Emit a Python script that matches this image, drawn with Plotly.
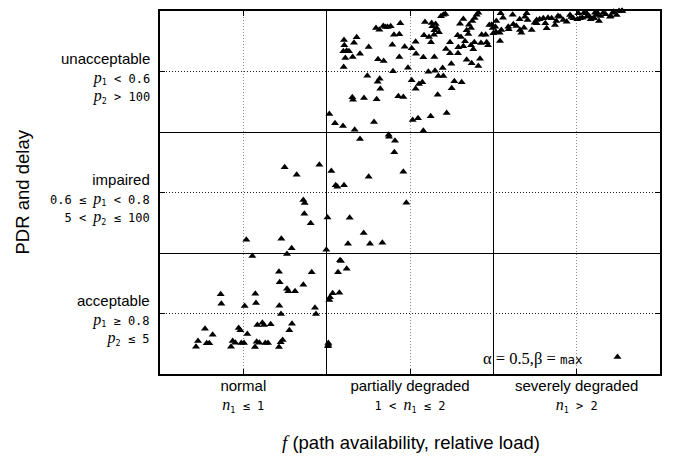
import plotly.graph_objects as go

# f (path availability, relative load) in region units: 0-1 normal, 1-2 partially degraded, 2-3 severely degraded
f_vals = [
 0.554,0.762,0.714,0.910,0.718,0.860,0.762,0.770,0.810,0.364,0.572,0.368,0.576,0.508,0.716,0.930,0.936,0.726,
 0.614,0.584,0.624,0.664,0.792,0.776,0.270,0.472,0.482,0.316,0.524,0.228,0.216,0.280,0.296,0.436,0.426,0.452,
 0.488,0.504,0.580,0.570,0.596,0.632,0.648,0.736,0.724,0.714,1.010,1.008,1.010,
 0.748,0.956,0.820,1.028,0.860,0.868,0.866,0.904,1.005,0.518,0.728,0.790,0.998,1.080,1.086,1.120,1.068,1.036,
 1.076,1.020,1.016,1.168,1.200,1.372,1.374,1.410,1.406,1.252,1.460,1.054,1.064,1.104,1.478,1.138,1.222,1.128,
 1.260,1.334,
 1.296,1.316,1.340,1.354,1.366,1.384,1.442,1.404,1.436,1.180,1.104,1.164,1.534,1.106,1.394,1.468,1.252,1.510,
 1.100,1.120,1.134,1.200,1.536,1.112,1.156,1.436,1.308,1.342,1.102,1.488,1.398,1.244,1.318,1.306,1.510,1.554,
 1.322,1.534,1.154,1.158,1.224,1.300,1.430,1.460,1.016,1.050,1.098,1.284,1.516,1.548,
 1.700,1.712,1.910,1.900,1.590,1.630,1.654,1.686,1.820,1.874,1.888,1.800,1.854,1.634,1.660,1.646,1.840,1.866,
 1.990,1.996,2.016,1.930,1.954,1.584,1.614,1.644,1.674,1.786,1.806,1.850,1.626,1.740,1.830,1.886,1.926,1.960,
 1.790,1.820,1.866,1.716,1.880,1.740,1.788,1.580,1.646,1.840,1.920,1.748,1.870,1.910,1.696,1.650,1.610,1.670,
 1.700,1.766,1.810,1.574,1.750,1.666,1.720,1.624,1.580,
 1.976,2.040,2.000,2.090,2.120,2.044,2.116,2.200,2.190,2.206,2.260,2.300,2.350,2.400,2.460,2.510,2.560,2.610,
 2.660,2.720,2.770,2.160,2.230,2.320,2.370,2.440,2.520,2.600,2.700,2.260,2.420,2.480,2.560,2.620,2.740,
 2.012,2.048,2.038,2.018,2.058,2.138,2.184,2.158,2.248,2.278,2.328,2.388,2.312,2.378,2.468,2.092,2.168,1.968,
 2.504,2.534,2.574,2.604,2.644,2.674,2.704,2.724,2.754,2.774,2.544,2.624,2.584,2.634,
]
# PDR and delay quality in region units: 0-1 acceptable, 1-2 impaired, 2-3 unacceptable
q_vals = [
 0.975,0.992,0.845,0.840,0.758,0.738,0.705,0.683,0.683,0.659,0.664,0.581,0.587,0.562,0.564,0.548,0.496,0.496,
 0.424,0.405,0.405,0.411,0.416,0.361,0.374,0.380,0.361,0.325,0.331,0.273,0.226,0.254,0.254,0.273,0.226,0.259,
 0.256,0.256,0.267,0.223,0.259,0.256,0.256,0.281,0.262,0.223,0.256,0.229,0.242,
 1.708,1.730,1.647,1.678,1.438,1.413,1.325,1.245,1.293,1.110,1.118,1.039,1.027,0.940,0.934,0.870,0.840,0.667,
 0.672,0.634,0.612,2.019,1.942,1.978,1.961,1.928,1.832,1.631,1.672,1.560,1.548,1.560,1.416,1.292,1.165,1.077,
 1.077,1.085,
 2.860,2.845,2.876,2.868,2.868,2.874,2.898,2.804,2.807,2.783,2.760,2.738,2.746,2.717,2.721,2.705,2.702,2.692,
 2.667,2.672,2.667,2.647,2.647,2.612,2.620,2.620,2.601,2.587,2.537,2.531,2.502,2.465,2.440,2.416,2.427,2.397,
 2.358,2.358,2.287,2.267,2.281,2.270,2.295,2.289,2.149,2.072,2.050,2.083,2.099,2.113,
 2.969,2.975,2.986,2.969,2.909,2.901,2.893,2.956,2.934,2.917,2.942,2.895,2.887,2.874,2.860,2.840,2.840,2.860,
 2.887,2.860,2.826,2.804,2.804,2.799,2.785,2.804,2.824,2.799,2.785,2.810,2.741,2.741,2.750,2.741,2.736,2.741,
 2.700,2.708,2.717,2.686,2.683,2.650,2.650,2.617,2.620,2.598,2.606,2.564,2.568,2.545,2.529,2.507,2.498,2.463,
 2.463,2.419,2.411,2.411,2.361,2.308,2.157,2.130,2.011,
 2.884,2.752,2.816,2.870,2.890,2.981,2.969,2.981,2.953,2.926,2.926,2.940,2.940,2.953,2.967,2.981,2.981,2.986,
 2.986,2.994,3.000,2.843,2.843,2.857,2.884,2.912,2.940,2.940,2.953,2.898,2.926,2.940,2.953,2.967,2.967,
 2.870,2.843,2.821,2.917,2.945,2.876,2.862,2.931,2.903,2.931,2.945,2.959,2.898,2.917,2.950,2.849,2.821,2.717,
 2.931,2.945,2.959,2.945,2.959,2.973,2.959,2.986,3.000,3.000,2.986,2.986,2.931,2.917,
]

SERIF = "Liberation Serif"
MONO = "DejaVu Sans Mono"
SANS = "Liberation Sans"

def it(s, size=16):
    return f"<span style='font-family:{SERIF};font-size:{size}px'><i>{s}</i></span>"

def mono(s, size=12):
    return f"<span style='font-family:{MONO};font-size:{size}px'>{s}</span>"

def sans(s, size=15):
    return f"<span style='font-family:{SANS};font-size:{size}px'>{s}</span>"

x_tickvals = [0.5, 1.5, 2.5]
x_ticktext = [
    "normal<br>" + it("n") + mono("<sub>1</sub> ≤ 1"),
    "partially degraded<br>" + mono("1 < ") + it("n") + mono("<sub>1</sub> ≤ 2"),
    "severely degraded<br>" + it("n") + mono("<sub>1</sub> > 2"),
]
y_tickvals = [0.5, 1.5, 2.5]
y_ticktext = [
    sans("acceptable") + "<br>" + it("p") + mono("<sub>1</sub> ≥ 0.8") + "<br>" + it("p") + mono("<sub>2</sub> ≤ 5"),
    sans("impaired") + "<br>" + mono("0.6 ≤ ") + it("p") + mono("<sub>1</sub> < 0.8") + "<br>" + mono("5 < ") + it("p") + mono("<sub>2</sub> ≤ 100"),
    sans("unacceptable") + "<br>" + it("p") + mono("<sub>1</sub> < 0.6") + "<br>" + it("p") + mono("<sub>2</sub> > 100"),
]
x_title = it("f", 19) + " (path availability, relative load)"
y_title = "PDR and delay"
legend_label = "α = 0.5,β = "

fig = go.Figure()
fig.add_trace(go.Scatter(
    x=f_vals, y=q_vals, mode="markers", name=" ",
    marker=dict(symbol="triangle-up", size=7, color="black", line=dict(width=0)),
    cliponaxis=False, showlegend=True,
))

axis_common = dict(
    range=[0, 3], showline=True, linecolor="black", linewidth=1.5, mirror="ticks",
    ticks="inside", ticklen=5, tickcolor="black", tickwidth=1,
    showgrid=True, griddash="1px,2px", gridwidth=1, zeroline=False, automargin=False,
    minor=dict(tickvals=[1, 2], showgrid=True, gridcolor="black", griddash="solid", gridwidth=1, ticks=""),
    tickfont=dict(family=SANS, size=15, color="black"),
)

annotations = []
for yv, txt in zip(y_tickvals, y_ticktext):
    annotations.append(dict(
        xref="paper", yref="y", x=0, y=yv, xanchor="right", yanchor="middle",
        xshift=-8, yshift=-6.5, align="right", showarrow=False, text=txt,
        font=dict(family=MONO, size=14.4, color="black"),
    ))
annotations.append(dict(
    xref="paper", yref="paper", x=-0.276, y=0.5, xanchor="center", yanchor="middle",
    textangle=-90, showarrow=False, text=y_title, font=dict(family=SANS, size=18.5, color="black"),
))
annotations.append(dict(
    xref="paper", yref="paper", x=0.502, y=-0.19, xanchor="center", yanchor="middle",
    showarrow=False, text=x_title, font=dict(family=SANS, size=18.5, color="black"),
))
annotations.append(dict(
    xref="paper", yref="paper", x=0.850, y=0.044, xanchor="right", yanchor="middle",
    showarrow=False,
    text=f"<span style='font-family:{SERIF};font-size:16.5px'>{legend_label}</span>" + mono("max", 12.5),
))

fig.update_layout(
    width=677, height=457,
    margin=dict(l=160, r=17, t=11, b=83),
    paper_bgcolor="white", plot_bgcolor="white",
    font=dict(family=SANS, color="black"),
    xaxis=dict(axis_common, tickvals=x_tickvals, ticktext=x_ticktext, gridcolor="#8a8a8a",
               ticklabelstandoff=-3),
    yaxis=dict(axis_common, tickvals=y_tickvals, showticklabels=False, gridcolor="#222"),
    legend=dict(x=0.924, y=0.047, xanchor="center", yanchor="middle", bgcolor="rgba(0,0,0,0)",
                borderwidth=0, font=dict(size=12)),
    annotations=annotations,
)

fig.write_html(
    "out.html",
    config={"displayModeBar": False},
    post_script="document.body.style.margin='0';document.documentElement.style.overflow='hidden';",
)
